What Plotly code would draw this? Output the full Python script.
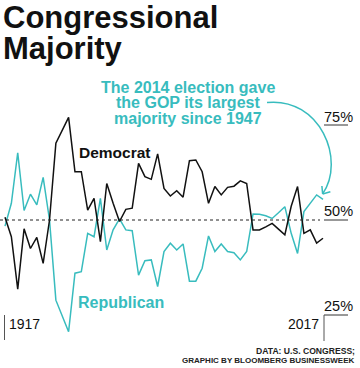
import numpy as np
import plotly.graph_objects as go

# ---- data (share of House seats, %) ----
years = list(range(1917, 2019, 2))
democrat = [50.7, 45.6, 31.8, 47.7, 42.5, 45.4, 38.6, 50.0, 70.2, 73.6,
            77.0, 62.7, 62.7, 52.6, 55.7, 44.3, 59.6, 54.4, 49.6, 52.8,
            53.1, 64.9, 61.4, 60.7, 67.4, 58.3, 56.3, 57.7, 56.0, 65.6,
            65.8, 62.7, 54.4, 58.8, 56.6, 58.6, 58.9, 60.3, 59.6, 47.4,
            47.4, 48.2, 49.1, 47.6, 46.1, 53.6, 58.8, 46.5, 47.4, 43.9,
            45.2]
republican = [48.4, 54.4, 67.7, 52.5, 56.8, 54.0, 61.2, 50.0, 28.9, 24.8,
              20.6, 36.0, 36.4, 46.5, 45.6, 55.7, 42.1, 47.4, 50.3, 47.4,
              47.2, 35.5, 39.3, 39.5, 32.5, 41.7, 43.9, 42.1, 43.7, 33.9,
              33.9, 37.3, 45.8, 41.7, 43.7, 41.7, 41.4, 39.5, 41.7, 51.6,
              51.5, 51.1, 50.4, 51.9, 53.5, 46.5, 41.2, 52.2, 54.4, 56.6,
              55.4]
pct_ticks = [75, 50, 25]
pct_labels = ["75%", "50%", "25%"]
first_year, last_year = years[0], years[-1]
highlight_year = 2015

TEAL = "#38bcbe"
BLACK = "#111111"
W, H = 360, 368

# pixel <-> data mapping (plot area = whole figure)
X0PIX, XSCALE = 5.0, 3.18      # px of first year, px per year
Y50PIX, YSCALE = 220.0, 3.8    # px of 50%, px per percentage point
xr = [first_year - X0PIX / XSCALE, first_year + (W - X0PIX) / XSCALE]
yr = [50 - (H - Y50PIX) / YSCALE, 50 + Y50PIX / YSCALE]

def dx(px):
    return first_year + (px - X0PIX) / XSCALE

def dy(py):
    return 50 + (Y50PIX - py) / YSCALE

def xpix(x):
    return X0PIX + (x - first_year) * XSCALE

def ypix(v):
    return Y50PIX - (v - 50) * YSCALE

fig = go.Figure()
fig.add_trace(go.Scatter(x=years, y=republican, mode="lines",
                         line=dict(color=TEAL, width=1.5), hoverinfo="skip"))
fig.add_trace(go.Scatter(x=years, y=democrat, mode="lines",
                         line=dict(color=BLACK, width=1.5), hoverinfo="skip"))

shapes = []
# dashed 50% line
shapes.append(dict(type="line", xref="x", yref="y", x0=dx(0), x1=dx(320),
                   y0=50, y1=50, line=dict(color="#222", width=1, dash="3px,3px")))
# tick underlines
lab_x0 = 324
for t in pct_ticks:
    shapes.append(dict(type="line", xref="x", yref="y", x0=dx(lab_x0), x1=dx(348),
                       y0=t, y1=t, line=dict(color="#333", width=1)))
# vertical frame ticks at the bottom
shapes.append(dict(type="line", xref="x", yref="y", x0=dx(lab_x0), x1=dx(lab_x0),
                   y0=pct_ticks[-1], y1=dy(341), line=dict(color="#555", width=1)))
shapes.append(dict(type="line", xref="x", yref="y", x0=dx(4.5), x1=dx(4.5),
                   y0=dy(315), y1=dy(340), line=dict(color="#555", width=1)))

# curved arrow to the highlighted point
hi = years.index(highlight_year)
tip = np.array([xpix(highlight_year) + 6, ypix(republican[hi]) - 1])
p0 = np.array([267.0, 102.5])
p1 = np.array([320.0, 97.0])
p2 = np.array([346.0, 160.0])
pts = [p0, p1, p2, tip]
path = "M {},{} C {},{} {},{} {},{}".format(
    *[v for p in pts for v in (dx(p[0]), dy(p[1]))])
shapes.append(dict(type="path", xref="x", yref="y", path=path,
                   line=dict(color=TEAL, width=1.5)))
back = (p2 - tip) / np.linalg.norm(p2 - tip)
for ang in (40, -40):
    a = np.radians(ang)
    r = np.array([back[0] * np.cos(a) - back[1] * np.sin(a),
                  back[0] * np.sin(a) + back[1] * np.cos(a)])
    end = tip + 8 * r
    shapes.append(dict(type="line", xref="x", yref="y",
                       x0=dx(tip[0]), y0=dy(tip[1]), x1=dx(end[0]), y1=dy(end[1]),
                       line=dict(color=TEAL, width=1.5)))

FONT = "Liberation Sans, Arial, sans-serif"
ann = []

def txt(text, px, py, size, color="#111", bold=False, xanchor="left"):
    t = f"<b>{text}</b>" if bold else text
    ann.append(dict(text=t, xref="paper", yref="paper", x=px / W, y=1 - py / H,
                    xanchor=xanchor, yanchor="middle", showarrow=False,
                    borderpad=0,
                    font=dict(family=FONT, size=size, color=color)))

txt("Congressional", 2, 17.5, 31, "#111", True)
txt("Majority", 2, 48.5, 31, "#111", True)
for i, line in enumerate(["The 2014 election gave", "the GOP its largest",
                          "majority since 1947"]):
    txt(line, 188, 87 + i * 15.7, 16, TEAL, True, "center")
txt("Democrat", 78, 152, 15.5, "#111", True)
txt("Republican", 77, 302, 16, TEAL, True)
txt(str(first_year), 8, 324, 14, "#111")
txt(str(last_year), 320, 324, 14, "#111", xanchor="right")
label_py = {75: 116.5, 50: 211, 25: 306}
for t, lab in zip(pct_ticks, pct_labels):
    txt(lab, 323, label_py[t], 14.5, "#111")
txt("DATA: U.S. CONGRESS;", 356, 350.5, 8.6, "#222", True, "right")
txt("GRAPHIC BY BLOOMBERG BUSINESSWEEK", 356, 360, 8, "#222", True, "right")

fig.update_layout(
    width=W, height=H, margin=dict(l=0, r=0, t=0, b=0),
    paper_bgcolor="white", plot_bgcolor="white", showlegend=False,
    xaxis=dict(range=xr, visible=False, fixedrange=True),
    yaxis=dict(range=yr, visible=False, fixedrange=True),
    shapes=shapes, annotations=ann,
)
fig.write_html("out.html", config={"displayModeBar": False},
               post_script="document.body.style.margin='0';document.body.style.overflow='hidden';")
